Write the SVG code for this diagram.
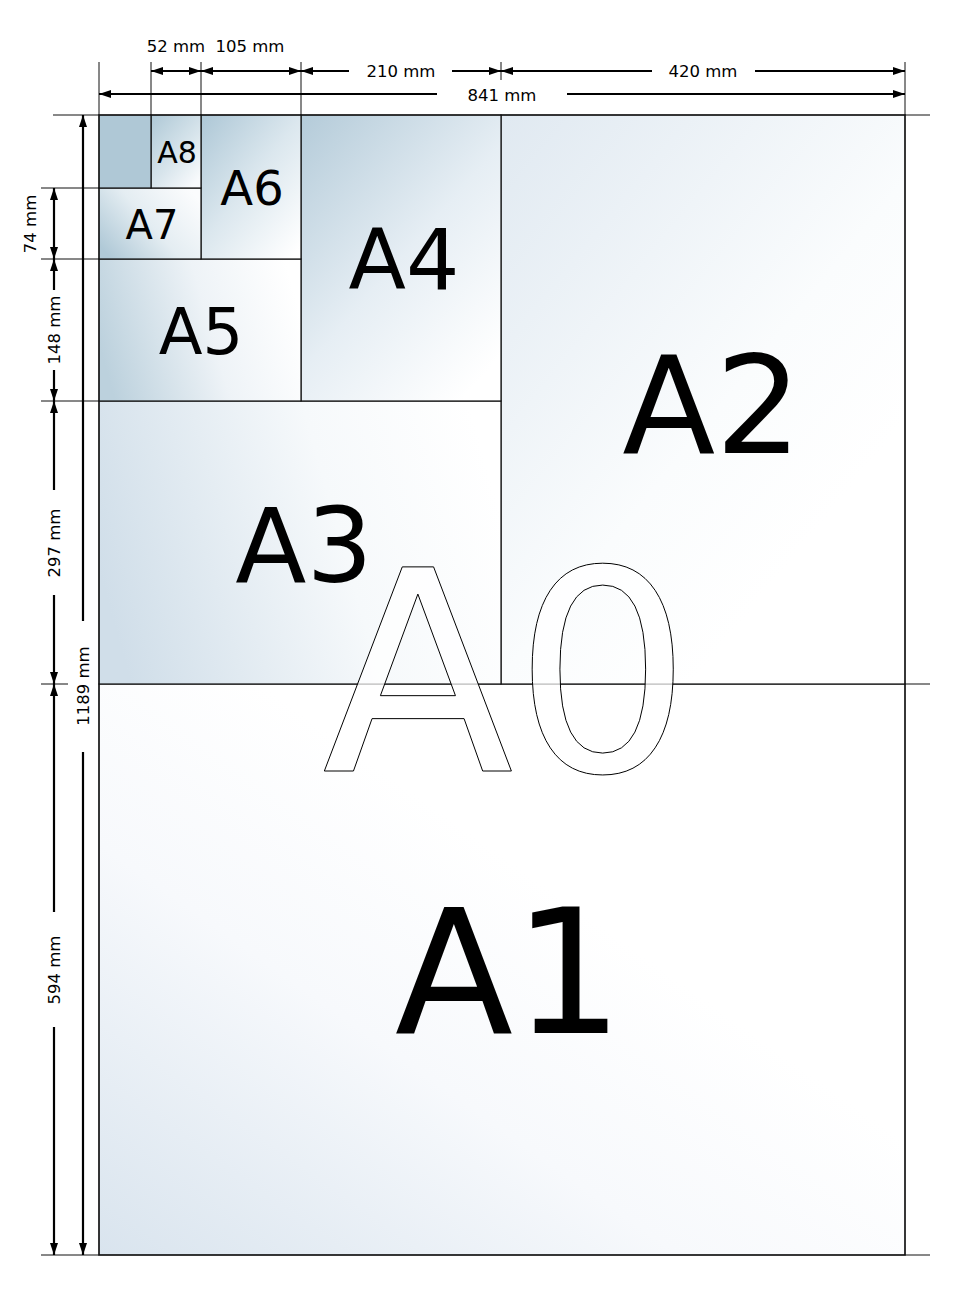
<svg xmlns="http://www.w3.org/2000/svg" width="960" height="1296" viewBox="0 0 960 1296">
<style>
.sheet{stroke:#111;stroke-width:1.2}
.ext{stroke:#111;stroke-width:1;fill:none}
.dim{stroke:#000;stroke-width:2.2;fill:none}
.lbl{font-family:"DejaVu Sans",sans-serif;fill:#000;text-anchor:middle}
.mm{font-family:"DejaVu Sans",sans-serif;font-size:16.5px;fill:#000;text-anchor:middle}
</style>
<defs>
<marker id="ar" viewBox="0 0 12 8" refX="12" refY="4" markerWidth="12" markerHeight="8" markerUnits="userSpaceOnUse" orient="auto-start-reverse">
<path d="M0,0 L12,4 L0,8 z" fill="#000"/>
</marker>
<linearGradient id="g1" x1="0" y1="1" x2="0.6" y2="0.4">
<stop offset="0" stop-color="#d9e4ee"/><stop offset="0.6" stop-color="#f7f9fc"/><stop offset="1" stop-color="#ffffff"/>
</linearGradient>
<linearGradient id="g2" x1="0" y1="0" x2="0.7" y2="0.8">
<stop offset="0" stop-color="#e0e9f1"/><stop offset="0.7" stop-color="#fafcfd"/><stop offset="1" stop-color="#ffffff"/>
</linearGradient>
<linearGradient id="g3" x1="0" y1="0.6" x2="1" y2="0.4">
<stop offset="0" stop-color="#d0dee9"/><stop offset="0.6" stop-color="#f6f9fb"/><stop offset="1" stop-color="#ffffff"/>
</linearGradient>
<linearGradient id="g4" x1="0" y1="0" x2="0.8" y2="1">
<stop offset="0" stop-color="#b4cbd9"/><stop offset="0.55" stop-color="#e6eef4"/><stop offset="1" stop-color="#ffffff"/>
</linearGradient>
<linearGradient id="g5" x1="0" y1="0.6" x2="1" y2="0.4">
<stop offset="0" stop-color="#bcd1dd"/><stop offset="0.55" stop-color="#eef3f7"/><stop offset="1" stop-color="#ffffff"/>
</linearGradient>
<linearGradient id="g6" x1="0" y1="0" x2="0.9" y2="1">
<stop offset="0" stop-color="#adc7d6"/><stop offset="0.5" stop-color="#dbe7ee"/><stop offset="1" stop-color="#ffffff"/>
</linearGradient>
<linearGradient id="g7" x1="0" y1="0.8" x2="1" y2="0.2">
<stop offset="0" stop-color="#b0c9d7"/><stop offset="0.5" stop-color="#e4edf2"/><stop offset="1" stop-color="#fbfcfd"/>
</linearGradient>
<linearGradient id="g8" x1="0" y1="0" x2="0.8" y2="1">
<stop offset="0" stop-color="#aec8d6"/><stop offset="0.6" stop-color="#d8e5ec"/><stop offset="1" stop-color="#f8fafc"/>
</linearGradient>
</defs>
<rect width="960" height="1296" fill="#ffffff"/>

<g id="sheets">
<g id="A1"><rect class="sheet" x="99" y="684" width="806" height="571" fill="url(#g1)"/><text class="lbl" x="509" y="1033" font-size="173">A1</text></g>
<g id="A2"><rect class="sheet" x="501" y="115" width="404" height="569" fill="url(#g2)"/><text class="lbl" x="712" y="453" font-size="136">A2</text></g>
<g id="A3"><rect class="sheet" x="99" y="401" width="402" height="283" fill="url(#g3)"/><text class="lbl" x="304" y="582" font-size="104">A3</text></g>
<g id="A4"><rect class="sheet" x="301" y="115" width="200" height="286" fill="url(#g4)"/><text class="lbl" x="404" y="289" font-size="84">A4</text></g>
<g id="A5"><rect class="sheet" x="99" y="259" width="202" height="142" fill="url(#g5)"/><text class="lbl" x="201" y="354" font-size="64">A5</text></g>
<g id="A6"><rect class="sheet" x="201" y="115" width="100" height="144" fill="url(#g6)"/><text class="lbl" x="252" y="205" font-size="48">A6</text></g>
<g id="A7"><rect class="sheet" x="99" y="188" width="102" height="71" fill="url(#g7)"/><text class="lbl" x="152" y="239" font-size="40">A7</text></g>
<g id="A8"><rect class="sheet" x="151" y="115" width="50" height="73" fill="url(#g8)"/><text class="lbl" x="177" y="163" font-size="30">A8</text></g>
<g id="A9"><rect class="sheet" x="99" y="115" width="52" height="73" fill="#afc8d6"/></g>
<g id="A0"><rect x="99" y="115" width="806" height="1140" fill="none" stroke="#111" stroke-width="1.2"/>
<text x="507" y="771" font-family="DejaVu Sans,sans-serif" font-size="280" text-anchor="middle" fill="#ffffff" fill-opacity="0.75" stroke="#000" stroke-width="1">A0</text></g>
</g>

<g id="connectors">
<g id="extension-lines">
<path class="ext" d="M99,62V115 M151,62V115 M201,62V115 M301,62V115 M501,62V80 M905,62V115"/>
<path class="ext" d="M53,115H99 M905,115H930 M41,188H99 M41,259H99 M41,401H99 M41,684H68 M905,684H930 M41,1255H99 M905,1255H930"/>
</g>
<g id="dimensions">
<path class="dim" d="M151,71H201" marker-start="url(#ar)" marker-end="url(#ar)"/>
<path class="dim" d="M201,71H301" marker-start="url(#ar)" marker-end="url(#ar)"/>
<path class="dim" d="M349,71H301" marker-end="url(#ar)"/>
<path class="dim" d="M452,71H501" marker-end="url(#ar)"/>
<path class="dim" d="M652,71H501" marker-end="url(#ar)"/>
<path class="dim" d="M755,71H905" marker-end="url(#ar)"/>
<path class="dim" d="M437,94H99" marker-end="url(#ar)"/>
<path class="dim" d="M567,94H905" marker-end="url(#ar)"/>
<path class="dim" d="M54,188V259" marker-start="url(#ar)" marker-end="url(#ar)"/>
<path class="dim" d="M54,290V259" marker-end="url(#ar)"/>
<path class="dim" d="M54,370V401" marker-end="url(#ar)"/>
<path class="dim" d="M54,490V401" marker-end="url(#ar)"/>
<path class="dim" d="M54,595V684" marker-end="url(#ar)"/>
<path class="dim" d="M54,912V684" marker-end="url(#ar)"/>
<path class="dim" d="M54,1027V1255" marker-end="url(#ar)"/>
<path class="dim" d="M83,621V115" marker-end="url(#ar)"/>
<path class="dim" d="M83,752V1255" marker-end="url(#ar)"/>
</g>
<g id="dimension-labels">
<text class="mm" x="176" y="52">52 mm</text>
<text class="mm" x="250" y="52">105 mm</text>
<text class="mm" x="401" y="77">210 mm</text>
<text class="mm" x="703" y="77">420 mm</text>
<text class="mm" x="502" y="101">841 mm</text>
<text class="mm" transform="translate(36,224) rotate(-90)">74 mm</text>
<text class="mm" transform="translate(60,330) rotate(-90)">148 mm</text>
<text class="mm" transform="translate(60,543) rotate(-90)">297 mm</text>
<text class="mm" transform="translate(60,970) rotate(-90)">594 mm</text>
<text class="mm" transform="translate(89,686) rotate(-90)">1189 mm</text>
</g>
</g>
</svg>
